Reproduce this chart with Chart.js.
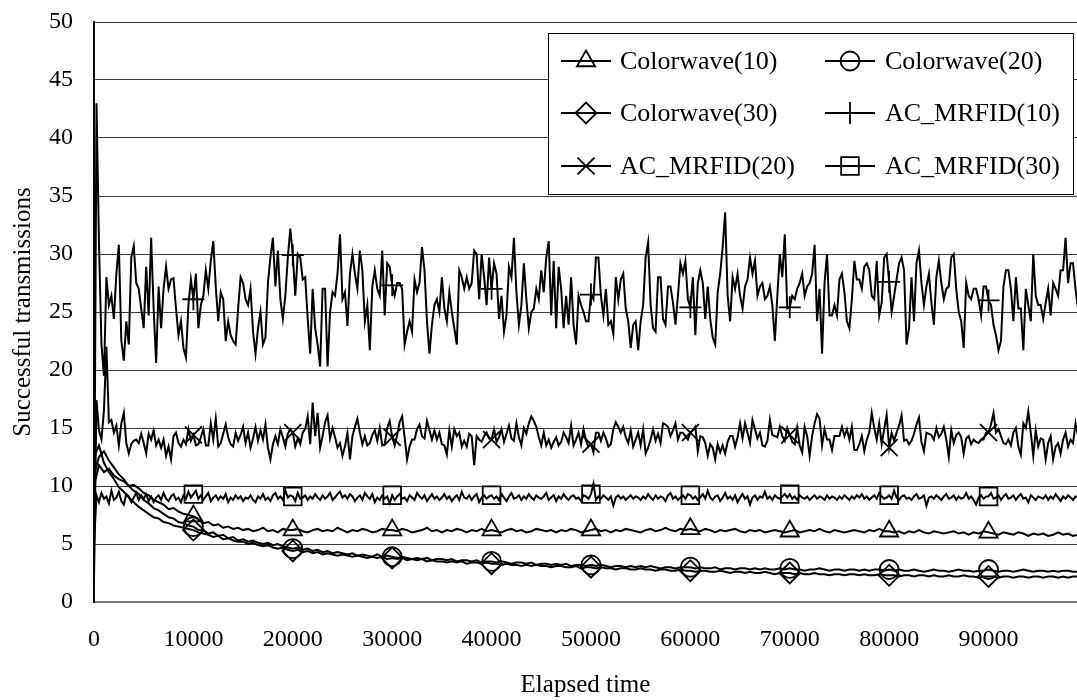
<!DOCTYPE html>
<html><head><meta charset="utf-8">
<script src="https://cdn.jsdelivr.net/npm/chart.js@4.4.1/dist/chart.umd.min.js"></script>
<style>html,body{margin:0;padding:0;background:#fff;overflow:hidden}canvas{display:block}</style>
</head><body>
<canvas id="c" width="1077" height="700"></canvas>
<script>
// ---- data ----
const seriesNames = ["Colorwave(10)", "Colorwave(20)", "Colorwave(30)", "AC_MRFID(10)", "AC_MRFID(20)", "AC_MRFID(30)"];
const xTickValues = [0, 10000, 20000, 30000, 40000, 50000, 60000, 70000, 80000, 90000];
const yTickValues = [0, 5, 10, 15, 20, 25, 30, 35, 40, 45, 50];
const fineStep = 250;    // elapsed-time spacing of AC_MRFID samples
const coarseStep = 500;  // elapsed-time spacing of Colorwave samples

const colorwave10 = [10.0,11.8,11.2,11.5,10.9,10.6,10.4,10.0,10.1,9.8,9.4,9.2,8.8,8.6,8.4,8.0,8.1,7.8,7.6,7.5,7.4,7.1,6.8,6.9,6.6,6.7,6.4,6.5,6.3,6.4,6.2,
6.3,6.1,6.2,6.4,6.1,6.2,6.0,6.3,6.2,6.2,
6.3,6.1,6.0,6.2,6.3,6.1,6.2,6.1,6.4,6.2,
6.0,6.2,6.1,6.3,6.2,6.0,6.1,6.3,6.2,6.2,
6.1,6.3,6.2,6.0,6.1,6.2,6.4,6.1,6.2,6.0,
6.2,6.1,6.3,6.2,6.0,6.2,6.1,6.3,6.1,6.2,
6.1,6.0,6.2,6.3,6.1,6.2,6.0,6.1,6.3,6.2,
6.1,6.2,6.0,6.2,6.1,6.3,6.2,6.0,6.1,6.2,
6.3,6.1,6.2,6.0,6.2,6.1,6.3,6.2,6.1,6.0,
6.2,6.3,6.1,6.2,6.4,6.2,6.1,6.3,6.2,6.3,
6.2,6.1,6.3,6.2,6.0,6.2,6.1,6.2,6.3,6.1,
6.0,6.2,6.1,6.2,6.0,6.1,6.2,6.1,6.0,6.1,
6.2,6.0,6.1,6.2,6.1,6.3,6.1,6.0,6.2,6.1,
6.0,6.1,6.2,6.1,6.0,6.2,6.1,6.3,6.1,6.1,
6.0,6.1,5.9,6.1,6.0,6.2,6.0,5.9,6.1,6.0,
5.9,6.0,6.1,5.9,6.0,5.8,6.0,5.9,6.1,6.0,
5.9,5.8,6.0,5.9,5.8,6.0,5.9,5.7,5.9,5.8,
5.9,5.7,5.8,6.0,5.8,5.9,5.7,5.8];

const colorwave20 = [11.0,12.5,13.0,12.2,11.6,11.0,10.6,10.0,9.6,9.3,8.8,8.5,8.1,7.9,7.6,7.3,7.2,6.9,6.8,6.6,6.5,
6.2,6.2,5.9,6.0,5.7,5.8,5.5,5.6,5.3,5.4,
5.2,5.3,5.1,5.0,5.1,4.9,5.0,4.8,4.7,4.6,
4.7,4.5,4.6,4.4,4.5,4.3,4.4,4.2,4.3,4.2,
4.1,4.2,4.0,4.1,4.0,3.9,4.1,3.9,4.0,3.9,
3.8,3.9,3.8,3.7,3.8,3.7,3.8,3.6,3.7,3.7,
3.6,3.7,3.5,3.6,3.6,3.5,3.6,3.4,3.5,3.5,
3.4,3.5,3.4,3.3,3.4,3.4,3.3,3.4,3.2,3.3,
3.3,3.2,3.3,3.2,3.3,3.1,3.2,3.2,3.1,3.2,
3.1,3.2,3.1,3.0,3.1,3.1,3.0,3.1,3.0,3.1,
3.0,3.1,3.0,2.9,3.0,3.0,2.9,3.0,3.0,3.0,
2.9,3.0,2.9,2.9,3.0,2.8,2.9,2.9,2.8,2.9,
2.9,2.8,2.9,2.8,2.9,2.8,2.8,2.9,2.8,2.9,
2.8,2.8,2.7,2.8,2.8,2.9,2.8,2.7,2.8,2.8,
2.7,2.8,2.8,2.7,2.8,2.7,2.8,2.8,2.7,2.8,
2.7,2.8,2.7,2.7,2.8,2.7,2.6,2.7,2.8,2.7,
2.7,2.6,2.7,2.8,2.7,2.7,2.6,2.7,2.7,2.8,
2.7,2.6,2.7,2.7,2.6,2.7,2.8,2.7,2.6,2.7,
2.7,2.6,2.7,2.6,2.7,2.7,2.6,2.6];

const colorwave30 = [12.5,13.5,12.0,11.2,10.6,9.9,9.5,9.0,8.6,8.2,7.9,7.6,7.3,7.2,6.9,6.8,6.6,6.5,6.4,6.3,6.2,
6.0,5.9,5.8,5.6,5.7,5.4,5.5,5.3,5.2,5.2,
5.0,5.1,4.9,4.8,4.9,4.7,4.6,4.7,4.5,4.4,
4.5,4.3,4.4,4.2,4.3,4.1,4.2,4.1,4.0,4.1,
4.0,3.9,4.0,3.9,3.8,3.9,3.8,3.9,3.7,3.8,
3.7,3.8,3.6,3.7,3.6,3.7,3.5,3.6,3.5,3.5,
3.4,3.5,3.4,3.5,3.3,3.4,3.4,3.3,3.4,3.3,
3.3,3.2,3.3,3.2,3.2,3.1,3.2,3.1,3.2,3.1,
3.1,3.0,3.1,3.1,3.0,3.0,3.1,2.9,3.0,3.0,
2.9,3.0,2.9,2.9,2.8,2.9,2.9,2.8,2.8,2.9,
2.8,2.8,2.7,2.8,2.8,2.7,2.7,2.8,2.7,2.7,
2.6,2.7,2.7,2.6,2.6,2.7,2.6,2.5,2.6,2.6,
2.5,2.6,2.5,2.5,2.6,2.5,2.4,2.5,2.5,2.5,
2.4,2.5,2.4,2.4,2.5,2.4,2.4,2.3,2.4,2.4,
2.3,2.4,2.4,2.3,2.4,2.3,2.3,2.4,2.3,2.3,
2.3,2.2,2.3,2.3,2.2,2.3,2.3,2.2,2.3,2.2,
2.2,2.3,2.2,2.2,2.3,2.2,2.2,2.1,2.2,2.2,
2.2,2.1,2.2,2.2,2.1,2.2,2.2,2.1,2.2,2.2,
2.1,2.2,2.2,2.1,2.2,2.1,2.2,2.2];

const acMrfid10 = [2,43,31,22.2,19.5,28,25.6,26.4,24.4,28.3,
30.8,22.5,20.8,24.2,22.2,29.7,30.7,27.5,27,25.3,
23.6,28.9,24.7,31.4,25.3,20.6,27.2,23.6,27,28.9,
27,27.8,27.9,25.3,23,24.2,21.9,21.1,25.6,27.8,
26.1,28.3,23.6,25.6,26.4,28.6,27,29.4,31.1,27.2,
24.2,26.7,26.1,22.5,24.2,23,22.5,22.2,25.3,28,
27.5,26.1,25.6,27,23.3,21.4,23.6,25,22.2,22.8,
27.5,29.7,31.4,27.2,30.3,26.1,24.4,26.4,29.7,32.2,
29.9,26.4,30,29.7,27.8,28,24.4,21.4,27,23.6,
22.2,20.3,27,27,20.3,25,26.7,26.4,28.3,31.7,
26.1,26.7,23.8,28.3,30,28.3,27,30.3,28.6,24.2,
25.6,21.7,27.2,28.6,27,26.4,30.3,24.7,29.2,28.9,
27.3,26.4,27.5,27.5,27,22.2,23.3,24.2,23.3,27.8,
26.7,27.5,30.6,28.6,24.2,21.4,23.9,25.6,26.1,25,
28,25.3,24.2,26.7,25,23.6,22.2,28.6,28,27,
28,27,27.5,30.3,30,26.1,30,28,25.6,29.7,
27,29.2,28.3,24.4,26.4,23.3,24.7,28.9,28,31.4,
26.7,23.9,25.6,29.2,26.1,23.6,25,25.3,27,26.1,
28.6,26.7,29.7,31.1,24.7,29.4,23.6,28.9,27,23.6,
26.4,23.9,28,23.9,22.2,26.4,25.6,25,24.2,24.2,
26.5,26.1,29.7,29.7,26.4,24.7,27,23.9,24.2,23.1,
28,26.1,27.8,28.3,25.3,24.2,21.9,23.9,24.2,21.7,
24.2,25.6,29.7,31,25.6,23.6,23.3,28,28,24.4,
23.9,27.2,27.2,25.8,23.9,26.4,29.2,28.3,29.4,26.1,
25.4,28,23,27.5,28.6,27.5,24.4,27.2,24.4,22.8,
22.2,26.7,28.3,30.6,33.6,26.4,24.2,28,27,28.3,
26.4,25.3,27.2,27.8,29.7,28.3,29.4,26.4,27.2,27.5,
26.1,26.4,27.2,25.6,22.5,26.4,30,28,31.7,25.3,
25.4,26.4,26.1,27,27.5,28.3,26.4,27.2,27.5,28.3,
30.8,24.2,27,21.4,27.5,30,24.7,24.7,25.6,24.7,
27.8,28.3,26.7,24.2,23.6,26.1,29.4,27.8,27.8,27,
28.9,29.2,28.6,26.4,26.1,29.4,24.7,25.8,29.7,30,
27.6,25,26.4,27.8,29.2,29.7,28.6,22.2,23.6,28,
24.2,29.2,30.3,27.5,25.6,27.2,28.3,25.8,23.9,28,
29.4,27.5,26.1,27,27.2,29.7,30,27,25,24.2,
21.9,27.5,26.4,26.1,27,27,26.1,24.7,27.2,27.2,
26,25.6,23.9,23,21.7,22.5,27.2,28.6,28.6,27,
24.2,28,25.3,25.3,21.7,27,25.6,24.2,30,26.4,
25.6,25.6,24.4,25.8,27,24.7,27.5,27,26.4,28.6,
28.6,31.4,27.5,29.2,29.2,27,25.3];

const acMrfid20 = [2,17.4,14.8,14.0,16.5,22,15.5,15.7,14.6,15.2,
13.5,15.4,16.3,13.7,12.8,13.6,13.9,14.0,13.7,14.5,
13.7,12.8,14.5,14.0,14.8,13.5,14.0,13.3,14.0,12.6,
13.4,12.3,14.3,14.6,13.7,13.4,14.0,13.6,14.9,13.9,
14.4,13.5,13.6,14.2,14.9,13.5,13.5,15.4,14.0,15.8,
13.4,13.7,14.5,15.3,14.2,13.6,13.4,14.6,13.9,14.4,
15.1,13.7,14.6,13.3,14.1,15.1,13.9,14.8,14.0,15.3,
13.3,12.3,13.6,14.3,13.6,14.9,14.2,13.4,14.5,14.9,
14.6,13.4,14.1,13.6,14.6,14.9,16.0,13.6,17.2,14.3,
16.3,13.3,14.3,15.5,16.1,14.1,15.0,14.2,13.3,13.7,
12.6,13.4,14.6,12.3,14.3,15.1,15.8,14.6,13.6,14.3,
13.5,13.7,14.4,14.8,13.9,15.0,13.5,13.6,15.0,15.6,
14.2,13.5,14.4,15.5,16.0,14.2,12.3,13.4,14.0,14.0,
14.9,15.3,14.3,14.1,15.6,14.8,14.0,14.8,14.0,14.6,
13.6,13.5,12.7,14.8,13.4,14.9,14.3,14.6,13.4,13.9,
13.4,14.5,14.3,11.8,14.3,14.0,13.8,14.3,14.6,14.1,
14.0,14.9,13.8,14.2,14.9,13.8,14.5,15.2,14.1,13.9,
15.4,14.2,13.5,15.0,14.5,15.4,16.0,15.6,15.1,14.2,
13.5,14.6,13.5,14.0,13.3,13.8,14.2,13.5,13.8,14.6,
14.2,13.7,15.2,13.5,14.0,14.6,13.6,14.9,13.9,13.4,
13.6,12.9,14.6,14.6,13.9,14.6,14.1,13.4,13.6,14.9,
15.5,15.1,14.6,15.1,14.2,13.7,14.8,13.4,14.0,14.6,
13.5,14.9,12.8,13.3,14.0,14.9,13.9,14.5,13.7,15.4,
15.3,15.1,14.3,14.8,15.4,14.0,14.6,14.6,14.3,14.0,
14.6,14.8,15.1,13.0,14.3,14.2,13.7,12.6,13.6,13.3,
12.3,13.6,12.9,13.5,12.8,13.8,14.3,14.3,13.4,14.2,
15.4,14.1,15.4,14.6,13.7,15.7,14.9,14.1,14.6,13.5,
13.4,13.9,15.7,14.4,14.3,14.2,15.1,14.3,13.9,15.0,
14.4,13.8,13.6,15.0,13.5,12.9,15.1,14.3,12.6,14.3,
15.4,16.2,15.8,13.5,14.9,14.0,14.0,13.1,14.3,14.3,
14.3,15.1,14.3,14.9,14.0,15.1,13.1,13.1,13.6,14.3,
13.0,14.0,14.6,16.3,15.0,14.0,15.4,13.6,14.9,16.1,
13.3,14.6,13.9,14.6,15.2,16.1,13.9,14.0,13.6,13.9,
14.5,15.3,15.9,13.8,13.0,14.6,14.5,14.4,14.0,15.0,
14.2,14.5,15.1,14.0,12.5,14.8,13.7,14.4,14.6,14.2,
12.8,14.1,14.3,13.6,14.0,13.8,13.7,14.0,14.0,14.6,
14.6,15.3,16.3,14.6,14.9,14.3,13.7,13.6,14.0,13.5,
14.6,15.0,13.4,12.7,15.4,15.0,16.4,14.6,12.6,14.8,
13.4,14.1,14.0,12.3,13.7,14.3,12.3,13.4,13.7,12.8,
14.0,14.6,13.4,14.0,13.7,15.4,14.3];

const acMrfid30 = [5.0,9.2,8.6,9.4,8.9,9.1,8.5,9.6,8.8,9.0,9.5,8.7,8.4,9.3,9.1,8.6,9.0,9.4,8.8,9.2,
8.9,9.3,8.7,9.1,8.6,9.0,9.2,8.8,9.4,8.9,8.7,9.1,9.3,8.8,9.0,8.6,9.2,8.9,9.5,9.0,
9.3,9.6,8.9,9.2,8.8,9.1,9.4,8.7,9.0,9.2,8.8,9.1,8.9,9.3,8.6,9.0,8.8,9.2,8.9,9.1,
8.7,9.0,8.9,9.2,8.8,8.6,9.1,8.9,9.3,8.8,9.0,8.7,9.2,9.4,8.9,9.1,8.8,9.6,9.0,9.2,
9.1,8.7,9.4,8.9,9.0,9.2,8.8,9.1,8.9,9.3,9.0,8.8,9.2,8.9,9.1,9.4,8.8,9.0,9.3,9.5,
9.0,9.2,8.9,9.3,9.1,8.7,9.0,9.2,8.8,9.4,9.1,8.9,9.3,8.6,9.0,8.8,9.2,8.9,9.1,8.5,
9.2,8.8,9.1,9.3,8.9,9.0,8.7,9.2,9.0,8.8,9.4,9.1,8.9,9.2,8.7,9.0,9.3,8.9,9.1,8.8,
9.0,9.3,8.9,9.1,8.7,9.0,9.2,8.8,9.5,9.0,8.9,9.2,8.8,9.1,9.3,8.6,9.0,9.2,8.9,9.1,
9.2,8.9,9.1,8.8,9.3,9.0,8.7,9.1,9.4,8.9,9.0,9.2,8.8,9.1,8.9,9.3,9.0,8.8,9.2,9.0,
8.9,9.1,9.4,8.8,9.0,9.2,8.7,9.1,8.9,9.3,9.0,8.8,9.1,9.2,8.9,9.0,8.7,9.2,9.1,8.9,
9.3,10.2,8.8,9.1,8.9,9.2,9.0,8.8,9.1,8.3,9.0,9.2,8.9,9.1,8.8,9.0,9.2,8.9,9.1,9.0,
8.8,9.1,8.9,9.3,9.0,8.8,9.2,8.9,9.1,9.0,8.7,9.2,9.4,8.9,9.1,8.8,9.0,9.2,8.9,9.3,
9.2,8.9,9.1,8.8,9.0,9.3,8.9,9.6,9.0,8.8,9.1,9.2,8.7,9.0,9.4,8.9,9.1,8.8,9.2,8.6,
9.0,9.3,8.9,9.1,8.4,9.0,9.2,8.8,9.1,9.0,9.5,8.9,9.1,8.8,9.2,9.0,8.9,9.1,9.3,9.0,
9.3,8.9,9.1,8.8,9.2,9.0,8.9,9.1,8.8,9.0,9.2,8.9,9.1,9.0,8.8,9.2,8.9,9.1,9.0,8.8,
9.1,8.9,9.2,9.0,8.8,9.1,8.9,9.2,9.0,9.3,8.9,9.1,8.8,9.0,9.2,8.9,9.4,9.1,8.9,9.0,
9.2,8.9,9.6,9.0,8.8,9.1,9.2,8.9,9.0,8.8,9.1,9.3,8.9,9.0,9.2,8.3,9.0,9.1,8.9,9.2,
9.0,8.8,9.1,9.3,8.9,9.0,9.2,8.8,9.1,8.9,9.0,9.4,8.9,9.1,8.8,8.4,9.0,9.2,8.9,9.1,
9.1,9.4,8.9,9.0,9.2,8.8,9.1,9.3,8.9,9.0,9.2,8.8,9.1,9.3,8.9,9.0,8.6,9.2,9.0,8.8,
9.1,9.0,8.9,9.2,8.8,9.1,8.9,9.3,9.0,8.7,9.1,8.9,9.2,9.0,8.8,9.1,9.0];

// ---- build chart ----
const FONT = '"Liberation Serif", "Times New Roman", serif';
function toPoints(vals, step) { return vals.map((v, i) => ({ x: i * step, y: v })); }
const markerStyles = ['triangle', 'circle', 'rectRot', 'cross', 'crossRot', 'rect'];
const markerRadius = [10.5, 9.5, 10.5, 11, 12, 12.5];
const seriesValues = [colorwave10, colorwave20, colorwave30, acMrfid10, acMrfid20, acMrfid30];
const seriesSteps = [coarseStep, coarseStep, coarseStep, fineStep, fineStep, fineStep];
const isMarkerX = x => x > 0 && xTickValues.includes(x);

const datasets = seriesNames.map((name, k) => ({
  label: name,
  data: toPoints(seriesValues[k], seriesSteps[k]),
  borderColor: '#000',
  borderWidth: 2,
  backgroundColor: 'rgba(0,0,0,0)',
  pointBackgroundColor: 'rgba(0,0,0,0)',
  pointBorderColor: '#000',
  pointBorderWidth: 1.8,
  pointStyle: markerStyles[k],
  pointRadius: ctx => (ctx.raw && isMarkerX(ctx.raw.x)) ? markerRadius[k] : 0,
  pointHoverRadius: ctx => (ctx.raw && isMarkerX(ctx.raw.x)) ? markerRadius[k] : 0,
  tension: 0,
  fill: false
}));

function drawMarker(ctx, style, r, x, y) {
  if (window.Chart && Chart.helpers && Chart.helpers.drawPoint) {
    Chart.helpers.drawPoint(ctx, { pointStyle: style, radius: r, borderWidth: 1.8, rotation: 0 }, x, y);
    return;
  }
  ctx.beginPath(); ctx.arc(x, y, r, 0, Math.PI * 2); ctx.stroke();
}

const boxLegend = {
  id: 'boxLegend',
  afterDraw(chart) {
    const ctx = chart.ctx;
    ctx.save();
    const L = 548, T = 33, W = 525, H = 161;
    ctx.fillStyle = '#fff';
    ctx.fillRect(L, T, W, H);
    ctx.strokeStyle = '#000';
    ctx.lineWidth = 1;
    ctx.strokeRect(L + 0.5, T + 0.5, W, H);
    const rowsY = [61, 113, 166];
    const lineX = [561, 825];
    const textX = [620, 885];
    ctx.font = '26px ' + FONT;
    ctx.textBaseline = 'middle';
    ctx.textAlign = 'left';
    seriesNames.forEach((name, k) => {
      const col = k % 2, row = Math.floor(k / 2);
      const y = rowsY[row];
      ctx.strokeStyle = '#000';
      ctx.lineWidth = 1.8;
      ctx.beginPath(); ctx.moveTo(lineX[col], y); ctx.lineTo(lineX[col] + 50, y); ctx.stroke();
      ctx.fillStyle = 'rgba(0,0,0,0)';
      ctx.lineWidth = 1.8;
      drawMarker(ctx, markerStyles[k], markerRadius[k], lineX[col] + 25, y);
      ctx.fillStyle = '#000';
      ctx.fillText(name, textX[col], y + 1);
    });
    ctx.restore();
  }
};

new Chart(document.getElementById('c'), {
  type: 'line',
  data: { datasets },
  plugins: [boxLegend],
  options: {
    responsive: false,
    animation: false,
    devicePixelRatio: 1,
    events: [],
    layout: { padding: { left: 0, right: 0, top: 22, bottom: 0 }, autoPadding: false },
    plugins: { legend: { display: false }, tooltip: { enabled: false } },
    scales: {
      x: {
        type: 'linear',
        min: 0,
        max: 98900,
        afterFit: s => { s.height = 98; s.paddingLeft = 0; s.paddingRight = 0; },
        afterBuildTicks: s => { s.ticks = xTickValues.map(v => ({ value: v })); },
        ticks: { color: '#000', font: { family: FONT, size: 24 }, padding: 23, maxRotation: 0, autoSkip: false, includeBounds: false, callback: v => String(v) },
        grid: { display: false, drawTicks: false },
        border: { display: true, color: '#7a7a7a', width: 2 },
        title: { display: true, text: 'Elapsed time', color: '#000', font: { family: FONT, size: 25 }, padding: { top: 0, bottom: 0 } }
      },
      y: {
        min: 0,
        max: 50,
        afterFit: s => { s.width = 94; s.paddingTop = 0; s.paddingBottom = 0; },
        afterBuildTicks: s => { s.ticks = yTickValues.map(v => ({ value: v })); },
        ticks: { color: '#000', font: { family: FONT, size: 24 }, padding: 21, autoSkip: false, callback: v => String(v) },
        grid: { color: '#3a3a3a', lineWidth: 1, drawTicks: false },
        border: { display: true, color: '#000', width: 2 },
        title: { display: true, text: 'Successful transmissions', color: '#000', font: { family: FONT, size: 25 }, padding: { top: 8, bottom: 0 } }
      }
    }
  }
});
</script>
</body></html>
